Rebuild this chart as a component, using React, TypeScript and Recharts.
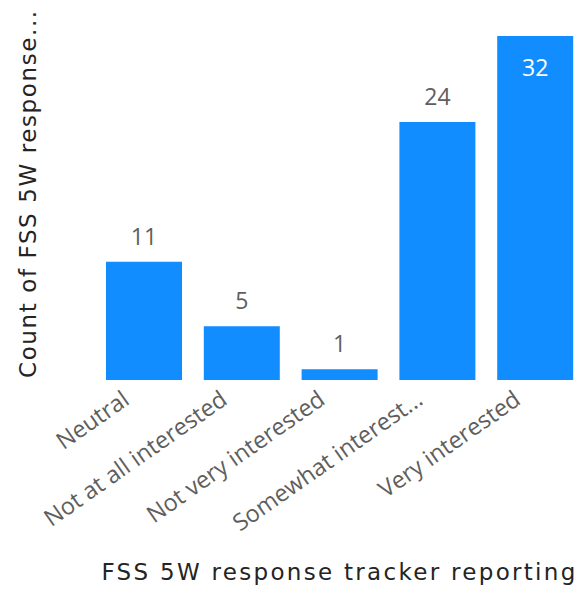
import { Bar, BarChart, LabelList, XAxis, YAxis, Label } from "recharts";

// Count of responses by interest level
const categories: string[] = [
  "Neutral",
  "Not at all interested",
  "Not very interested",
  "Somewhat interest...",
  "Very interested",
];
const counts: number[] = [11, 5, 1, 24, 32];

const xTitle = "FSS 5W response tracker reporting";
const yTitle = "Count of FSS 5W response...";

const chartData = categories.map((name, i) => ({ name, count: counts[i] }));

const BAR_BLUE = "#118DFF";
const LABEL_GRAY = "#605E5C";
const TITLE_DARK = "#252423";
const PLOT_TOP = 36;
const TITLE_FONT = "'DejaVu Sans', sans-serif";

function RotatedTick(props: any) {
  const { x, y, payload } = props;
  return (
    <text
      x={x - 13}
      y={y + 23}
      transform={`rotate(-35, ${x - 13}, ${y + 23})`}
      textAnchor="end"
      fill={LABEL_GRAY}
      fontSize={23.5}
      fontFamily="'Open Sans', 'Noto Sans', sans-serif"
    >
      {payload.value}
    </text>
  );
}

// labels sit above the bar, or inside at the top when there is no room
function ValueLabel(props: any) {
  const { x, y, width, value } = props;
  const cx = x + width / 2;
  const inside = y - 17 - 20 < PLOT_TOP;
  return (
    <text
      x={cx}
      y={inside ? y + 40 : y - 17}
      textAnchor="middle"
      fill={inside ? "#FFFFFF" : LABEL_GRAY}
      fontSize={23}
      fontFamily="'Open Sans', 'Noto Sans', sans-serif"
    >
      {value}
    </text>
  );
}

export default function App() {
  return (
    <div
      style={{
        position: "absolute",
        left: 0,
        top: 0,
        width: 579,
        height: 594,
        overflow: "hidden",
        background: "#fff",
      }}
    >
      <BarChart
        width={590}
        height={594}
        data={chartData}
        margin={{ top: PLOT_TOP, right: 6, left: 0, bottom: 0 }}
      >
        <XAxis
          dataKey="name"
          height={214}
          interval={0}
          axisLine={false}
          tickLine={false}
          tickSize={0}
          tickMargin={0}
          tick={<RotatedTick />}
        >
          <Label
            content={(p: any) => {
              const vb = p.viewBox;
              return (
                <text
                  x={vb.x + vb.width / 2}
                  y={580}
                  textAnchor="middle"
                  fill={TITLE_DARK}
                  fontSize={23}
                  letterSpacing={2.3}
                  fontFamily={TITLE_FONT}
                >
                  {xTitle}
                </text>
              );
            }}
          />
        </XAxis>
        <YAxis
          width={95}
          domain={[0, "dataMax"]}
          tick={false}
          axisLine={false}
          tickLine={false}
        >
          <Label
            content={() => (
              <text
                x={36}
                y={378}
                transform="rotate(-90, 36, 378)"
                textAnchor="start"
                fill={TITLE_DARK}
                fontSize={23}
                letterSpacing={1.6}
                fontFamily={TITLE_FONT}
              >
                {yTitle}
              </text>
            )}
          />
        </YAxis>
        <Bar dataKey="count" fill={BAR_BLUE} barSize={76} isAnimationActive={false}>
          <LabelList dataKey="count" content={<ValueLabel />} />
        </Bar>
      </BarChart>
    </div>
  );
}
